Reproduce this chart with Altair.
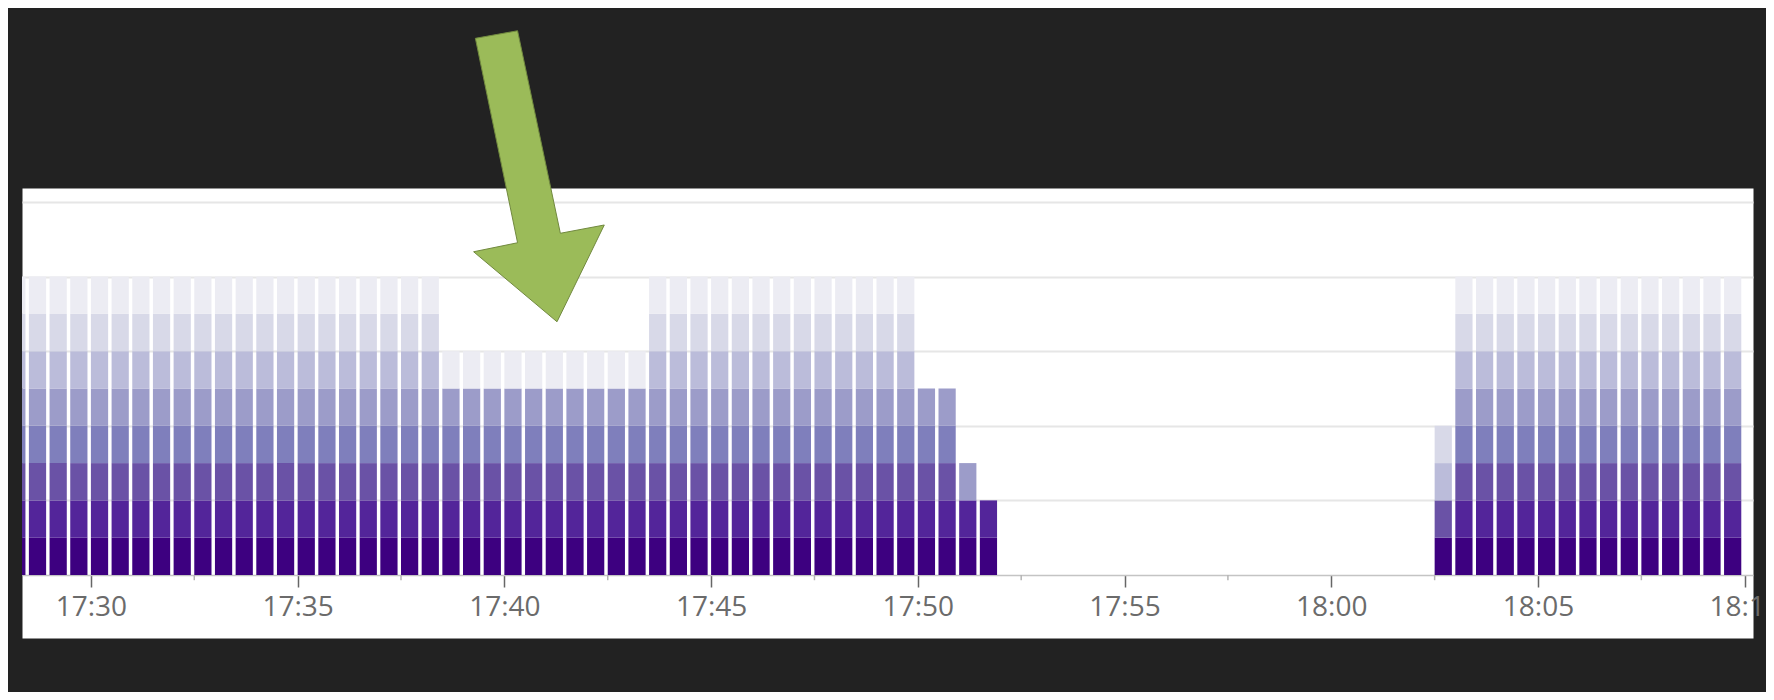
import altair as alt
import pandas as pd

DAY = "2015-03-10T"

# start time of each 30-second bar
bar_times = [
    "17:28:00", "17:28:30", "17:29:00", "17:29:30", "17:30:00", "17:30:30", "17:31:00",
    "17:31:30", "17:32:00", "17:32:30", "17:33:00", "17:33:30", "17:34:00", "17:34:30",
    "17:35:00", "17:35:30", "17:36:00", "17:36:30", "17:37:00", "17:37:30", "17:38:00",
    "17:38:30", "17:39:00", "17:39:30", "17:40:00", "17:40:30", "17:41:00", "17:41:30",
    "17:42:00", "17:42:30", "17:43:00",
    "17:43:30", "17:44:00", "17:44:30", "17:45:00", "17:45:30", "17:46:00", "17:46:30",
    "17:47:00", "17:47:30", "17:48:00", "17:48:30", "17:49:00", "17:49:30",
    "17:50:00", "17:50:30", "17:51:00", "17:51:30",
    "18:02:30",
    "18:03:00", "18:03:30", "18:04:00", "18:04:30", "18:05:00", "18:05:30", "18:06:00",
    "18:06:30", "18:07:00", "18:07:30", "18:08:00", "18:08:30", "18:09:00", "18:09:30",
]

# which of the 8 stacked series (1 = bottom/darkest ... 8 = top/lightest) each bar holds
bar_layers = [
    "12345678", "12345678", "12345678", "12345678", "12345678", "12345678", "12345678",
    "12345678", "12345678", "12345678", "12345678", "12345678", "12345678", "12345678",
    "12345678", "12345678", "12345678", "12345678", "12345678", "12345678", "12345678",
    "123458", "123458", "123458", "123458", "123458", "123458", "123458",
    "123458", "123458", "123458",
    "12345678", "12345678", "12345678", "12345678", "12345678", "12345678", "12345678",
    "12345678", "12345678", "12345678", "12345678", "12345678", "12345678",
    "12345", "12345", "125", "12",
    "1367",
    "12345678", "12345678", "12345678", "12345678", "12345678", "12345678", "12345678",
    "12345678", "12345678", "12345678", "12345678", "12345678", "12345678", "12345678",
]

series_names = ["s1", "s2", "s3", "s4", "s5", "s6", "s7", "s8"]
series_colors = ["#3d0080", "#53259a", "#6a52a6", "#7f7fbc",
                 "#9c9cc9", "#bbbcda", "#d8d9e8", "#ececf3"]

# labelled axis ticks (hour, minute)
major_ticks = [(17, 30), (17, 35), (17, 40), (17, 45), (17, 50),
               (17, 55), (18, 0), (18, 5), (18, 10)]

minor_tick_times = ["17:32:30", "17:37:30", "17:42:30", "17:47:30",
                    "17:52:30", "17:57:30", "18:02:30", "18:07:30"]

arrow_time = ["17:40:50"]
arrow_level = [10.69]

BAR_SECONDS = 25

rows = []
for t, layers in zip(bar_times, bar_layers):
    start = pd.Timestamp(DAY + t)
    end = start + pd.Timedelta(seconds=BAR_SECONDS)
    for d in layers:
        rows.append({
            "t": start.strftime("%Y-%m-%dT%H:%M:%S"),
            "t_end": end.strftime("%Y-%m-%dT%H:%M:%S"),
            "series": "s" + d,
            "order": int(d),
            "value": 1,
        })
bars_df = pd.DataFrame(rows)

minor_df = pd.DataFrame({"t": [DAY + t for t in minor_tick_times]})
arrow_df = pd.DataFrame({"t": [DAY + t for t in arrow_time], "y": arrow_level})


def dt(h, m, s=0):
    return alt.DateTime(year=2015, month=3, date=10, hours=h, minutes=m, seconds=s)


xscale = alt.Scale(domain=[dt(17, 28, 20), dt(18, 10, 12)])
yscale = alt.Scale(domain=[-1.689, 10.375], nice=False, zero=False)

xaxis = alt.Axis(
    format="%H:%M",
    values=[dt(h, m) for h, m in major_ticks],
    title="",
    labelFont="Open Sans",
    labelFontSize=28,
    labelColor="#6b6b6b",
    labelPadding=6,
    labelFlush=False,
    labelOverlap=False,
    tickSize=12,
    tickColor="#666666",
    tickWidth=1.5,
    domainColor="#c4c4c4",
    domainWidth=1.5,
    offset=-63,
    grid=False,
)
yaxis = alt.Axis(
    values=[2, 4, 6, 8, 10],
    grid=True,
    gridColor="#e6e6e6",
    gridWidth=2,
    labels=False,
    ticks=False,
    domain=False,
    title="",
)

bars = (
    alt.Chart(bars_df)
    .transform_stack(
        stack="value",
        groupby=["t"],
        as_=["lo", "hi"],
        sort=[alt.SortField("order", order="ascending")],
    )
    .mark_bar(clip=True)
    .encode(
        x=alt.X("t:T", scale=xscale, axis=xaxis),
        x2="t_end:T",
        y=alt.Y("lo:Q", scale=yscale, axis=yaxis),
        y2="hi:Q",
        color=alt.Color("series:N",
                        scale=alt.Scale(domain=series_names, range=series_colors),
                        legend=None),
    )
)

minor_ticks = (
    alt.Chart(minor_df)
    .mark_rule(color="#b5b5b5", strokeWidth=1.5)
    .encode(
        x=alt.X("t:T", scale=xscale, axis=xaxis),
        y=alt.YDatum(0, scale=yscale, axis=yaxis),
        y2=alt.Y2Datum(-0.14),
    )
)

ARROW_PATH = ("M-0.436,-0.948 L-0.146,-1 L0.148,0.392 L0.45,0.335 "
              "L0.125,1 L-0.448,0.519 L-0.146,0.457 Z")

arrow = (
    alt.Chart(arrow_df)
    .mark_point(shape=ARROW_PATH, size=84681, filled=True, fill="#9bbb59",
                stroke="#71893f", strokeWidth=1, opacity=1, clip=False)
    .encode(
        x=alt.X("t:T", scale=xscale, axis=xaxis),
        y=alt.Y("y:Q", scale=yscale, axis=yaxis),
    )
)

chart = (
    alt.layer(bars, minor_ticks, arrow)
    .properties(
        width=1731,
        height=450,
        autosize="none",
        padding={"left": 14, "top": 180, "right": 13, "bottom": 54},
        background="#222222",
    )
    .configure_view(fill="white", stroke="transparent")
)

chart.save("out.html", embed_options={"renderer": "svg", "actions": False})
